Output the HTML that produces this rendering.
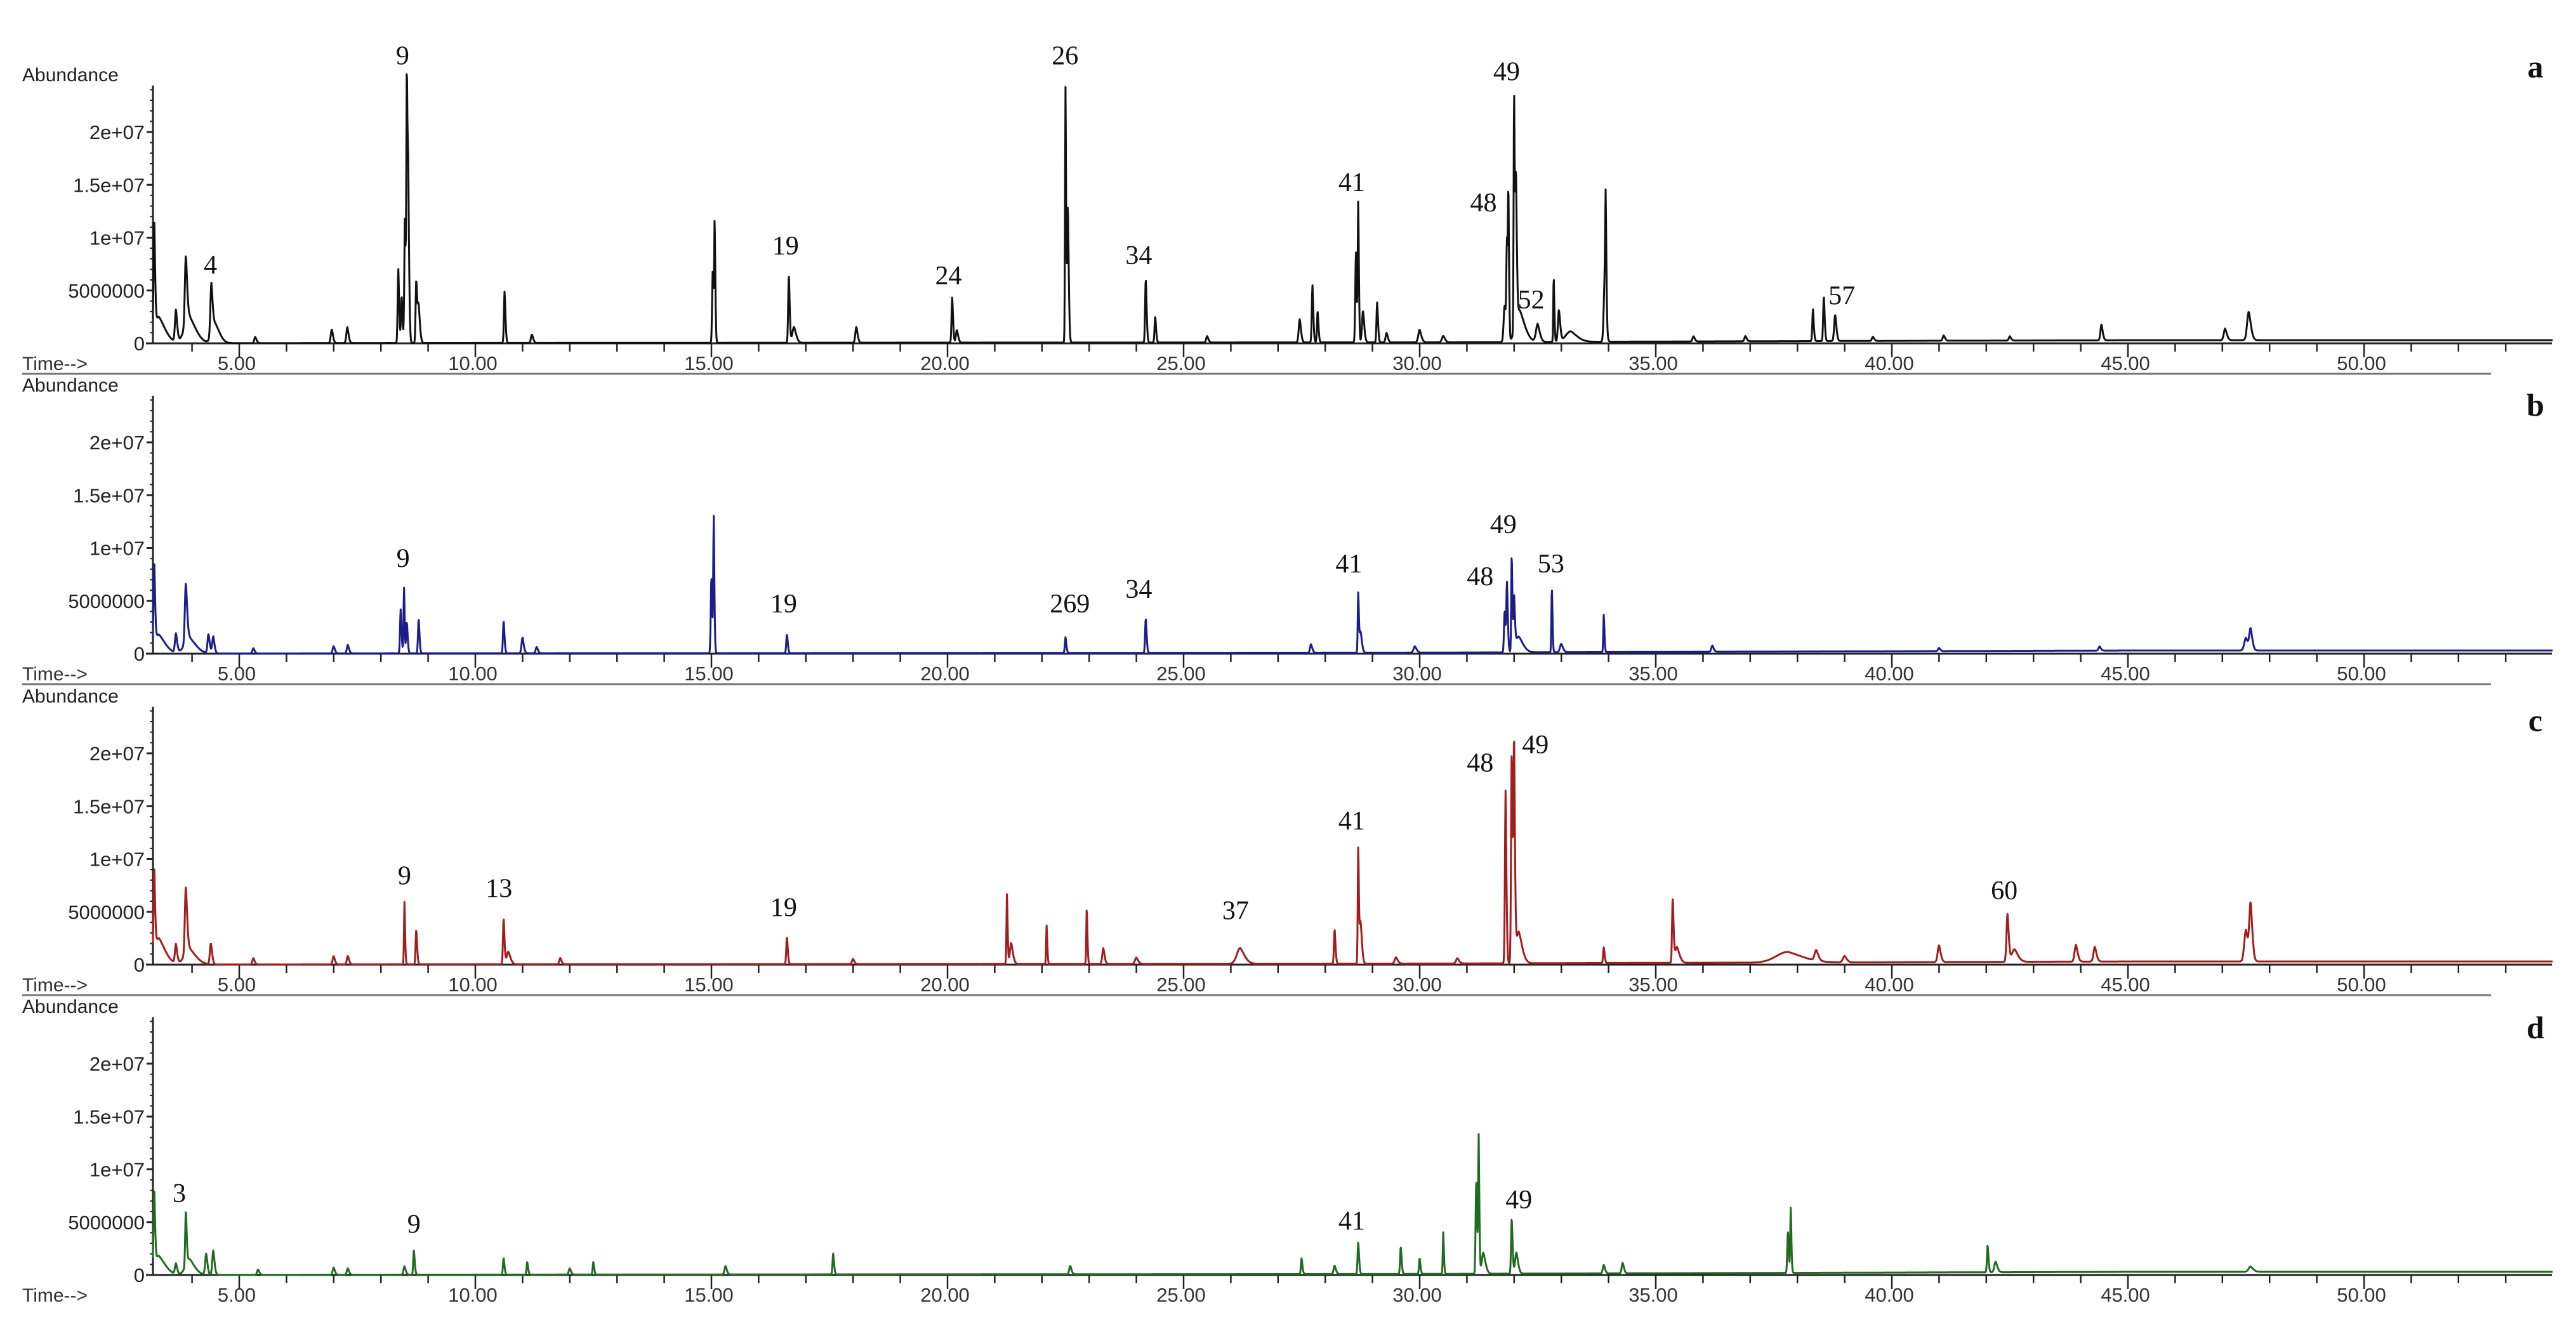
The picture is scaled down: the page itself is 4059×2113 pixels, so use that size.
<!DOCTYPE html>
<html><head><meta charset="utf-8"><style>
html,body{margin:0;padding:0;background:#fff;}
svg{display:block;}
</style></head><body>
<svg id="chart" width="4059" height="2113" viewBox="0 0 4059 2113" xmlns="http://www.w3.org/2000/svg"></svg>
<script>
// ---- data (time in min, abundance in 1e6, width in min) ----
const panelIds = ['a','b','c','d'];
const panelColors = ['#111111','#1c1c8a','#a31d1d','#1f6b1f'];
const xTicks = [5,10,15,20,25,30,35,40,45,50];
const xTickLabels = ['5.00','10.00','15.00','20.00','25.00','30.00','35.00','40.00','45.00','50.00'];
const yTicks = [0,5,10,15,20];
const yTickLabels = ['0','5000000','1e+07','1.5e+07','2e+07'];

const peaksA = [[3.2,10.2,0.02],[3.3,2.5,0.15],[3.66,3.0,0.03],[3.87,6.5,0.03],[3.95,2.5,0.15],[4.41,4.9,0.03],[4.5,1.8,0.1],[5.34,0.6,0.03],[6.96,1.3,0.03],[7.29,1.5,0.03],
 [8.37,7.0,0.02],[8.44,4.5,0.02],[8.51,12.2,0.02],[8.55,24.4,0.015],[8.58,14.5,0.02],[8.75,5.9,0.02],[8.8,3.5,0.03],[10.62,4.9,0.02],[11.2,0.8,0.03],
 [15.03,7.0,0.02],[15.07,11.2,0.015],[16.64,6.5,0.02],[16.75,1.5,0.05],[18.07,1.5,0.03],[20.1,4.3,0.02],[20.2,1.2,0.03],[22.5,24.6,0.015],[22.55,13,0.02],
 [24.2,6.1,0.02],[24.4,2.5,0.02],[25.5,0.6,0.03],[27.46,2.2,0.03],[27.73,5.4,0.02],[27.84,3.0,0.02],[28.65,8.5,0.02],[28.7,13.1,0.015],[28.8,3.0,0.03],[29.1,3.8,0.02],[29.3,0.9,0.03],[30.0,1.2,0.04],[30.5,0.6,0.04],
 [31.8,3.5,0.03],[31.85,9.0,0.02],[31.88,12.5,0.015],[32.0,23.1,0.015],[32.04,14.0,0.02],[32.12,3.0,0.12],[32.5,1.7,0.05],[32.84,6.2,0.015],[32.95,3.0,0.03],[33.2,1.0,0.15],
 [33.94,10.5,0.015],[33.92,5.9,0.03],[35.8,0.5,0.03],[36.9,0.5,0.03],[38.33,3.0,0.02],[38.56,4.3,0.02],[38.8,2.5,0.03],[39.6,0.4,0.03],[41.1,0.5,0.03],[42.5,0.4,0.03],[44.44,1.5,0.03],[47.06,1.1,0.04],[47.56,2.7,0.05]];
const peaksB = [[3.2,7.6,0.02],[3.3,1.8,0.15],[3.66,1.8,0.03],[3.87,5.6,0.03],[3.95,1.5,0.15],[4.35,1.8,0.03],[4.45,1.6,0.03],[5.3,0.5,0.03],[7.0,0.7,0.03],[7.3,0.8,0.03],
 [8.42,4.2,0.02],[8.49,6.2,0.015],[8.55,3.0,0.02],[8.8,3.3,0.02],[10.6,3.1,0.02],[11.0,1.5,0.03],[11.3,0.6,0.03],[15.0,7.3,0.02],[15.05,12.7,0.015],[16.6,1.8,0.02],
 [22.5,1.5,0.02],[24.2,3.3,0.02],[27.7,0.8,0.03],[28.7,5.7,0.015],[28.75,2.0,0.03],[29.9,0.6,0.04],[31.8,4.0,0.02],[31.85,6.5,0.02],[31.95,9.4,0.015],[32.0,5.0,0.02],[32.1,1.5,0.1],
 [32.8,6.2,0.015],[33.0,0.8,0.04],[33.9,3.6,0.015],[36.2,0.6,0.03],[41.0,0.3,0.03],[44.4,0.4,0.03],[47.5,1.2,0.05],[47.6,2.0,0.04]];
const peaksC = [[3.2,7.7,0.02],[3.3,2.5,0.15],[3.66,1.8,0.03],[3.87,6.3,0.03],[3.95,1.5,0.15],[4.4,2.0,0.03],[5.3,0.6,0.03],[7.0,0.8,0.03],[7.3,0.8,0.03],[8.5,6.0,0.015],[8.75,3.3,0.02],
 [10.6,4.4,0.02],[10.7,1.2,0.05],[11.8,0.6,0.03],[16.6,2.6,0.02],[18.0,0.5,0.03],[21.26,6.7,0.015],[21.35,2.0,0.04],[22.1,3.7,0.015],[22.95,5.4,0.015],[23.3,1.5,0.03],[24.0,0.6,0.04],
 [26.2,1.5,0.1],[28.2,3.3,0.02],[28.7,11.0,0.015],[28.75,4,0.03],[29.5,0.6,0.04],[30.8,0.5,0.04],[31.82,16.5,0.02],[31.95,20.3,0.02],[32.0,20.5,0.02],[32.1,3.0,0.08],
 [33.9,1.5,0.02],[35.36,6.1,0.02],[35.45,1.5,0.06],[37.8,1.0,0.35],[38.4,1.0,0.05],[39.0,0.6,0.05],[41.0,1.6,0.04],[42.45,4.5,0.03],[42.6,1.2,0.08],[43.9,1.6,0.04],[44.3,1.4,0.04],[47.5,3.0,0.05],[47.6,5.3,0.04]];
const peaksD = [[3.2,7.0,0.02],[3.3,1.8,0.15],[3.66,1.0,0.03],[3.87,5.2,0.02],[3.95,1.5,0.12],[4.3,2.0,0.03],[4.45,2.3,0.03],[5.4,0.5,0.03],[7.0,0.7,0.03],[7.3,0.6,0.03],[8.5,0.8,0.03],[8.7,2.3,0.02],
 [10.6,1.6,0.02],[11.1,1.2,0.02],[12.0,0.6,0.03],[12.5,1.2,0.02],[15.3,0.8,0.03],[17.58,2.0,0.02],[22.6,0.8,0.03],[27.5,1.5,0.02],[28.2,0.8,0.03],[28.7,3.0,0.02],[29.6,2.6,0.02],[30.0,1.5,0.02],
 [30.5,4.0,0.015],[31.2,9.0,0.02],[31.25,12.8,0.015],[31.35,2.0,0.05],[31.95,5.3,0.02],[32.05,2.0,0.04],[33.9,0.8,0.03],[34.3,1.0,0.03],[37.8,4.0,0.02],[37.86,6.2,0.015],[42.03,2.6,0.02],[42.2,1.0,0.04],[47.6,0.5,0.06]];
const allPeaks = [peaksA,peaksB,peaksC,peaksD];
const baselineDrift = [[0,0.0],[30,0.1],[45,0.3],[54,0.3]];

const labelsA = [['9',8.46,26.4],['4',4.39,6.6],['19',16.57,8.4],['24',20.02,5.6],['26',22.49,26.4],['34',24.05,7.5],['41',28.56,14.4],['48',31.35,12.5],['49',31.84,24.9],['52',32.36,3.3],['57',38.94,3.7]];
const labelsB = [['9',8.47,8.2],['19',16.53,3.9],['269',22.59,3.9],['34',24.05,5.3],['41',28.5,7.7],['48',31.28,6.5],['49',31.77,11.4],['53',32.78,7.7]];
const labelsC = [['9',8.5,7.6],['13',10.5,6.4],['19',16.53,4.6],['37',26.1,4.3],['41',28.56,12.8],['48',31.28,18.3],['49',32.45,20.0],['60',42.38,6.2]];
const labelsD = [['3',3.73,6.9],['9',8.7,4.0],['41',28.56,4.3],['49',32.1,6.3]];
const allLabels = [labelsA,labelsB,labelsC,labelsD];

// ---- geometry ----
const baseY = [541,1030,1520,2009];
const letterY = [122,655,1152,1636];
const pxPer1e6 = 16.65;
const tMin = 3.17, tMax = 54;
function xs(t){ return 749 + (t-10)*74.4; }
function ys(p,v){ return baseY[p] - v*pxPer1e6; }

const NS = 'http://www.w3.org/2000/svg';
const svg = document.getElementById('chart');
function mk(tag, attrs, parent){ const e=document.createElementNS(NS,tag); for(const k in attrs) e.setAttribute(k,attrs[k]); (parent||svg).appendChild(e); return e; }

function drift(t){
  for(let i=1;i<baselineDrift.length;i++){ const a=baselineDrift[i-1], b=baselineDrift[i];
    if(t<=b[0]) return a[1]+(b[1]-a[1])*(t-a[0])/(b[0]-a[0]); }
  return baselineDrift[baselineDrift.length-1][1];
}
function signal(peaks,t){
  let v = drift(t);
  for(const pk of peaks){ const c=pk[0],h=pk[1],w=pk[2];
    const d=t-c;
    if(d<0){ if(d>-6*w) v+=h*Math.exp(-(d/w)*(d/w)); }
    else { if(d<10*w) v+=h*Math.exp(-(d/w)*(d/w)*0.35 - d/(w*2.5)); }
  }
  return v;
}

for(let p=0;p<4;p++){
  const g = mk('g',{});
  
  
  const y0 = baseY[p];
  const at = mk('text',{x:35,y:y0-413,'font-family':'Liberation Sans, sans-serif','font-size':30,fill:'#222'},g);
  
  
  at.textContent='Abundance';
  const ya = mk('line',{x1:241,y1:ys(p,24.4),x2:241,y2:y0,stroke:'#222','stroke-width':3},g);
  
  
  for(let v=0; v<=24; v++){
    const tk = mk('line',{x1:(v%5==0)?231:236,y1:ys(p,v),x2:241,y2:ys(p,v),stroke:'#222','stroke-width':(v%5==0)?3:2},g);
    
    
  }
  yTicks.forEach((v,i)=>{
    const t = mk('text',{x:228,y:ys(p,v)+11,'text-anchor':'end','font-family':'Liberation Sans, sans-serif','font-size':31,fill:'#222'},g);
    
    
    t.textContent = yTickLabels[i];
  });
  const xa = mk('line',{x1:230,y1:y0,x2:4021,y2:y0,stroke:'#222','stroke-width':3},g);
  
  
  for(let t=4; t<=53; t++){
    const major = (t%5==0);
    const tk = mk('line',{x1:xs(t),y1:y0,x2:xs(t),y2:y0+(major?22:13),stroke:'#222','stroke-width':2.5},g);
    
    
  }
  xTicks.forEach((t,i)=>{
    const tl = mk('text',{x:xs(t)-4,y:y0+42,'text-anchor':'middle','font-family':'Liberation Sans, sans-serif','font-size':31,fill:'#333'},g);
    
    
    tl.textContent = xTickLabels[i];
  });
  const tt = mk('text',{x:35,y:y0+42,'font-family':'Liberation Sans, sans-serif','font-size':30,fill:'#333'},g);
  
  
  tt.textContent='Time-->';
  if(p<3){
    const sep = mk('line',{x1:35,y1:y0+48,x2:3925,y2:y0+48,stroke:'#777','stroke-width':3},g);
    
    
  }
  let d='';
  for(let t=tMin; t<=tMax; t+=0.008){
    const v = signal(allPeaks[p],t);
    d += (d?'L':'M')+xs(t).toFixed(1)+','+ys(p,v).toFixed(1);
  }
  const path = mk('path',{d:d,fill:'none',stroke:panelColors[p],'stroke-width':3,'stroke-linejoin':'round'},g);
  
  
  allLabels[p].forEach(l=>{
    const tx = mk('text',{x:xs(l[1]),y:ys(p,l[2]),'text-anchor':'middle','font-family':'Liberation Serif, serif','font-size':42,fill:'#111'},g);
    
    
    tx.textContent=l[0];
  });
  const pl = mk('text',{x:3995,y:letterY[p],'text-anchor':'middle','font-family':'Liberation Serif, serif','font-size':50,'font-weight':'bold',fill:'#111'},g);
  
  
  pl.textContent=panelIds[p];
}
</script>
</body></html>
